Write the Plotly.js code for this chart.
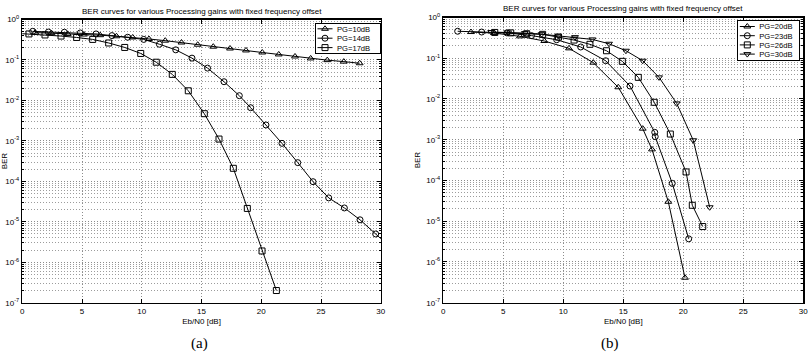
<!DOCTYPE html>
<html>
<head>
<meta charset="utf-8">
<script src="https://cdn.plot.ly/plotly-3.0.1.min.js"></script>
<style>
  html, body { margin: 0; padding: 0; background: #fff; }
  #chart { width: 808px; height: 356px; }
</style>
</head>
<body>
<div id="chart"></div>
<script>
// ---- (a) Processing gains 10, 14, 17 dB ----
const pg10X = [1.08, 2.44, 3.8, 5.16, 6.52, 7.88, 9.24, 10.6, 11.96, 13.32, 14.68, 15.98, 17.38, 18.72, 20.08, 21.46, 22.82, 24.13, 25.52, 26.9, 28.23];
const pg10Y = [0.475, 0.46, 0.44, 0.425, 0.41, 0.385, 0.36, 0.33, 0.30, 0.27, 0.238, 0.213, 0.192, 0.172, 0.153, 0.137, 0.122, 0.109, 0.099, 0.091, 0.083];

const pg14X = [0.87, 2.18, 3.52, 4.85, 6.17, 7.5, 8.82, 10.16, 11.47, 12.84, 14.2, 15.5, 16.88, 18.16, 19.11, 20.39, 21.73, 23.05, 24.33, 25.64, 26.95, 28.26, 29.57, 30.9];
const pg14Y = [0.51, 0.49, 0.485, 0.465, 0.44, 0.40, 0.365, 0.322, 0.245, 0.178, 0.111, 0.063, 0.029, 0.0131, 0.0066, 0.00247, 0.00087, 0.00029, 9.8e-5, 3.9e-5, 2.2e-5, 1.12e-5, 5.0e-6, 2.2e-6];

const pg17X = [-0.78, 0.56, 1.9, 3.24, 4.55, 5.89, 7.23, 8.57, 9.91, 11.21, 12.55, 13.89, 15.23, 16.46, 17.66, 18.83, 20.06, 21.26];
const pg17Y = [0.46, 0.44, 0.415, 0.39, 0.36, 0.322, 0.263, 0.204, 0.145, 0.088, 0.044, 0.0173, 0.0047, 0.00111, 2.1e-4, 2.14e-5, 1.9e-6, 2.0e-7];

// ---- (b) Processing gains 20, 23, 26, 30 dB ----
const pg20X = [2.31, 4.25, 6.39, 8.42, 10.475, 12.5, 14.58, 16.62, 17.39, 18.75, 20.14];
const pg20Y = [0.44, 0.415, 0.345, 0.265, 0.175, 0.078, 0.0194, 0.00187, 5.8e-4, 3.0e-5, 4.1e-7];

const pg23X = [1.2, 3.2, 5.3, 7.35, 9.45, 11.45, 13.53, 15.56, 17.62, 17.66, 19.08, 20.45];
const pg23Y = [0.46, 0.44, 0.42, 0.36, 0.285, 0.189, 0.087, 0.0208, 0.00152, 0.00119, 8.5e-5, 3.7e-6];

const pg26X = [4.29, 5.62, 6.95, 8.28, 9.6, 10.9, 12.22, 13.6, 14.92, 16.25, 17.58, 18.92, 20.23, 20.75, 21.62];
const pg26Y = [0.43, 0.42, 0.40, 0.386, 0.33, 0.28, 0.22, 0.153, 0.084, 0.034, 0.0083, 0.00138, 1.62e-4, 2.46e-5, 7.4e-6];

const pg30X = [4.0, 5.4, 6.8, 8.2, 9.58, 10.98, 12.42, 13.81, 15.22, 16.62, 17.98, 19.45, 20.83, 22.2];
const pg30Y = [0.44, 0.43, 0.415, 0.39, 0.357, 0.33, 0.29, 0.227, 0.153, 0.087, 0.034, 0.0078, 9.7e-4, 2.2e-5];

// ---- axis ticks and labels ----
const ebTicks = [0, 5, 10, 15, 20, 25, 30];
const berTicks = [1, 1e-1, 1e-2, 1e-3, 1e-4, 1e-5, 1e-6, 1e-7];
const berTickText = ['10<sup>0</sup>', '10<sup>-1</sup>', '10<sup>-2</sup>', '10<sup>-3</sup>', '10<sup>-4</sup>', '10<sup>-5</sup>', '10<sup>-6</sup>', '10<sup>-7</sup>'];

const plotTitle = 'BER curves for various Processing gains with fixed frequency offset';
const xLabel = 'Eb/N0 [dB]';
const yLabel = 'BER';

const FONT = 'Liberation Sans, Arial, Helvetica, sans-serif';
const GRID_DOTS = '1px,2px';

function curve(x, y, name, symbol, axisSuffix, legendId) {
  return {
    x: x, y: y, name: name, type: 'scatter', mode: 'lines+markers',
    xaxis: 'x' + axisSuffix, yaxis: 'y' + axisSuffix, legend: legendId,
    line: { color: '#000', width: 1 },
    marker: { symbol: symbol, size: 6, color: '#000', line: { color: '#000', width: 1 } },
    cliponaxis: true
  };
}

const traces = [
  curve(pg10X, pg10Y, 'PG=10dB', 'triangle-up-open', '', 'legend'),
  curve(pg14X, pg14Y, 'PG=14dB', 'circle-open', '', 'legend'),
  curve(pg17X, pg17Y, 'PG=17dB', 'square-open', '', 'legend'),
  curve(pg20X, pg20Y, 'PG=20dB', 'triangle-up-open', '2', 'legend2'),
  curve(pg23X, pg23Y, 'PG=23dB', 'circle-open', '2', 'legend2'),
  curve(pg26X, pg26Y, 'PG=26dB', 'square-open', '2', 'legend2'),
  curve(pg30X, pg30Y, 'PG=30dB', 'triangle-down-open', '2', 'legend2')
];

function xAxis(domain, anchor) {
  return {
    domain: domain, anchor: anchor, range: [0, 30],
    tickmode: 'array', tickvals: ebTicks,
    showgrid: true, gridcolor: '#8c8c8c', griddash: GRID_DOTS, gridwidth: 1,
    zeroline: false, showline: true, linecolor: '#000', linewidth: 1.5, mirror: 'ticks',
    ticks: 'inside', ticklen: 4, tickcolor: '#000',
    ticklabeloverflow: 'allow',
    tickfont: { family: FONT, size: 8, color: '#000' },
    title: { text: xLabel, font: { family: FONT, size: 8, color: '#000' }, standoff: 3 },
    automargin: false
  };
}

function yAxis(domain, anchor) {
  return {
    domain: domain, anchor: anchor, type: 'log', range: [-7, 0],
    tickmode: 'array', tickvals: berTicks, ticktext: berTickText,
    showgrid: true, gridcolor: '#8c8c8c', griddash: GRID_DOTS, gridwidth: 1,
    minor: { dtick: 'D1', showgrid: true, gridcolor: '#9c9c9c', griddash: GRID_DOTS, gridwidth: 1,
             ticks: 'inside', ticklen: 2, tickcolor: '#000' },
    zeroline: false, showline: true, linecolor: '#000', linewidth: 1.5, mirror: 'ticks',
    ticks: 'inside', ticklen: 4, tickcolor: '#000',
    ticklabeloverflow: 'allow',
    tickfont: { family: FONT, size: 8, color: '#000' },
    title: { text: yLabel, font: { family: FONT, size: 8, color: '#000' }, standoff: 4 },
    automargin: false
  };
}

function legendBox(x, y) {
  return {
    x: x, y: y, xanchor: 'right', yanchor: 'top', xref: 'paper', yref: 'paper',
    bgcolor: '#fff', bordercolor: '#000', borderwidth: 1,
    font: { family: FONT, size: 7.6, color: '#000' },
    tracegroupgap: 0, itemwidth: 30
  };
}

const layout = {
  width: 808, height: 356,
  margin: { l: 0, r: 0, t: 0, b: 0 },
  paper_bgcolor: '#fff', plot_bgcolor: '#fff',
  showlegend: true,
  xaxis: xAxis([0.0276, 0.4713], 'y'),
  yaxis: yAxis([0.1497, 0.9452], 'x'),
  xaxis2: xAxis([0.5486, 0.9942], 'y2'),
  yaxis2: yAxis([0.1497, 0.9508], 'x2'),
  legend: legendBox(0.4703, 0.9345),
  legend2: legendBox(0.9892, 0.9419),
  annotations: [
    { text: plotTitle, xref: 'paper', yref: 'paper', x: 0.2495, y: 0.969, xanchor: 'center', yanchor: 'middle',
      showarrow: false, font: { family: FONT, size: 8, color: '#000' } },
    { text: plotTitle, xref: 'paper', yref: 'paper', x: 0.7714, y: 0.975, xanchor: 'center', yanchor: 'middle',
      showarrow: false, font: { family: FONT, size: 8, color: '#000' } },
    { text: '(a)', xref: 'paper', yref: 'paper', x: 0.2475, y: 0.036, xanchor: 'center', yanchor: 'middle',
      showarrow: false, font: { family: 'Liberation Serif, DejaVu Serif, serif', size: 15, color: '#000' } },
    { text: '(b)', xref: 'paper', yref: 'paper', x: 0.7550, y: 0.036, xanchor: 'center', yanchor: 'middle',
      showarrow: false, font: { family: 'Liberation Serif, DejaVu Serif, serif', size: 15, color: '#000' } }
  ]
};

// Compact legend boxes: tighter rows and a short line sample, anchored at
// the box's top-right corner (in pixels).
const legendFrames = {
  legend:  { right: 380, top: 23.3, width: 65, rowStart: 6, rowGap: 9.4, bottomPad: 5.5 },
  legend2: { right: 799.3, top: 20.7, width: 62, rowStart: 6.3, rowGap: 9.2, bottomPad: 6 }
};
const TEXT_X = 22.5;

function compactLegends(gd) {
  Object.keys(legendFrames).forEach(function (id) {
    const f = legendFrames[id];
    const g = gd.querySelector('g.' + id);
    if (!g) return;
    g.querySelectorAll('[clip-path]').forEach(function (el) { el.removeAttribute('clip-path'); });
    const items = g.querySelectorAll('g.traces');
    const height = f.rowStart + (items.length - 1) * f.rowGap + f.bottomPad;
    const groups = g.querySelector('g.groups');
    if (groups) groups.setAttribute('transform', 'translate(0,0)');
    const scroll = g.querySelector('g.scrollbox');
    if (scroll) scroll.setAttribute('transform', 'translate(0,0)');
    items.forEach(function (it, i) {
      it.setAttribute('transform', 'translate(0,' + (f.rowStart + i * f.rowGap) + ')');
      it.querySelectorAll('path.js-line').forEach(function (p) { p.setAttribute('d', 'M3,0h15'); });
      it.querySelectorAll('.legendpoints path').forEach(function (p) {
        p.setAttribute('transform', 'translate(10.5,0)');
      });
      // entry label (class is "legendtext" or "legend2text")
      const t = it.querySelector('text');
      if (t) {
        t.setAttribute('x', TEXT_X);
        t.querySelectorAll('tspan[x]').forEach(function (s) { s.setAttribute('x', TEXT_X); });
      }
      const toggle = it.querySelector('rect.legendtoggle');
      if (toggle) toggle.setAttribute('width', 0);
    });
    const bg = g.querySelector('rect.bg');
    if (bg) {
      bg.setAttribute('x', 0.5); bg.setAttribute('y', 0.5);
      bg.setAttribute('width', f.width); bg.setAttribute('height', height);
    }
    g.setAttribute('transform', 'translate(' + (f.right - f.width - 0.5) + ',' + (f.top - 0.5) + ')');
  });
}

Plotly.newPlot('chart', traces, layout, { staticPlot: true, displayModeBar: false })
  .then(compactLegends);
</script>
</body>
</html>
